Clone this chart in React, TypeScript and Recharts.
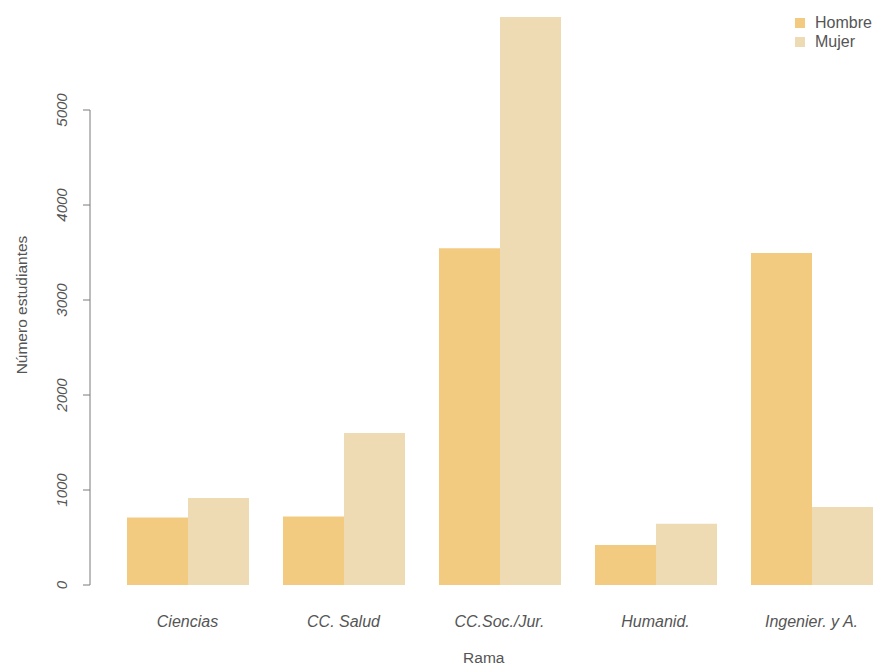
import React from 'react';
import { BarChart, Bar, XAxis, YAxis, ReferenceLine } from 'recharts';

// students per branch (rama), split by sex
const ramas = ['Ciencias', 'CC. Salud', 'CC.Soc./Jur.', 'Humanid.', 'Ingenier. y A.'];
const hombre = [710, 720, 3545, 420, 3495];
const mujer = [915, 1600, 5980, 645, 820];
const yTicks = [0, 1000, 2000, 3000, 4000, 5000];
const series = [
    { key: 'hombre', name: 'Hombre', color: '#F3CB80' },
    { key: 'mujer', name: 'Mujer', color: '#EEDAB3' }
];

const textColor = '#555555';
const axisColor = '#7a7a7a';
const font = '"Liberation Sans", Arial, Helvetica, sans-serif';

const data = ramas.map((rama, i) => ({ rama, hombre: hombre[i], mujer: mujer[i] }));

const YTick = (props: any) => {
    const { x, y, payload } = props;
    const cx = x - 21;
    return (
        <text
            x={cx}
            y={y}
            dy="0.35em"
            textAnchor="middle"
            transform={`rotate(-90, ${cx}, ${y})`}
            fill={textColor}
            fontSize={15}
            fontStyle="italic"
            fontFamily={font}
        >
            {payload.value}
        </text>
    );
};

const XTick = (props: any) => {
    const { x, y, payload } = props;
    return (
        <text x={x} y={y} dy={42} textAnchor="middle" fill={textColor} fontSize={16} fontStyle="italic" fontFamily={font}>
            {payload.value}
        </text>
    );
};

export default function App() {
    return (
        <div style={{ position: 'absolute', left: 0, top: 0, width: 874, height: 670, overflow: 'hidden', background: '#ffffff' }}>
            <BarChart
                width={892}
                height={670}
                data={data}
                margin={{ top: 15, right: 2.5, left: 0, bottom: 0 }}
                barCategoryGap={17.5}
                barGap={0}
            >
                <XAxis
                    dataKey="rama"
                    height={85}
                    padding={{ left: 19.5, right: 0 }}
                    axisLine={false}
                    tickLine={false}
                    tickSize={0}
                    tickMargin={0}
                    tick={<XTick />}
                    interval={0}
                    label={{
                        content: (p: any) => {
                            const vb = p.viewBox;
                            return (
                                <text x={vb.x + vb.width / 2 - 6} y={vb.y + 78} textAnchor="middle" fill={textColor} fontSize={15.5} fontFamily={font}>
                                    Rama
                                </text>
                            );
                        }
                    }}
                />
                <XAxis xAxisId="line" type="number" domain={[0, 1]} hide />
                <YAxis
                    width={90}
                    domain={[0, 6000]}
                    ticks={yTicks}
                    interval={0}
                    axisLine={false}
                    tickLine={{ stroke: axisColor }}
                    tickSize={7}
                    tickMargin={0}
                    tick={<YTick />}
                    label={{
                        content: (p: any) => {
                            const vb = p.viewBox;
                            const cx = vb.x + 22;
                            const cy = vb.y + vb.height / 2 + 5;
                            return (
                                <text x={cx} y={cy} dy="0.35em" textAnchor="middle" transform={`rotate(-90, ${cx}, ${cy})`} fill={textColor} fontSize={15.5} fontFamily={font}>
                                    Número estudiantes
                                </text>
                            );
                        }
                    }}
                />
                <ReferenceLine
                    xAxisId="line"
                    segment={[{ x: 0, y: 0 }, { x: 0, y: 5000 }]}
                    stroke={axisColor}
                    strokeWidth={1}
                    ifOverflow="visible"
                />
                {series.map((s) => (
                    <Bar key={s.key} dataKey={s.key} name={s.name} fill={s.color} isAnimationActive={false} />
                ))}
            </BarChart>
            {/* legend, top right */}
            <div style={{ position: 'absolute', left: 795, top: 13, fontFamily: font, fontSize: 16, color: textColor }}>
                {series.map((s) => (
                    <div key={s.key} style={{ display: 'flex', alignItems: 'center', height: 19.5 }}>
                        <span style={{ width: 10, height: 10, background: s.color, marginRight: 10, display: 'inline-block' }} />
                        <span>{s.name}</span>
                    </div>
                ))}
            </div>
        </div>
    );
}
